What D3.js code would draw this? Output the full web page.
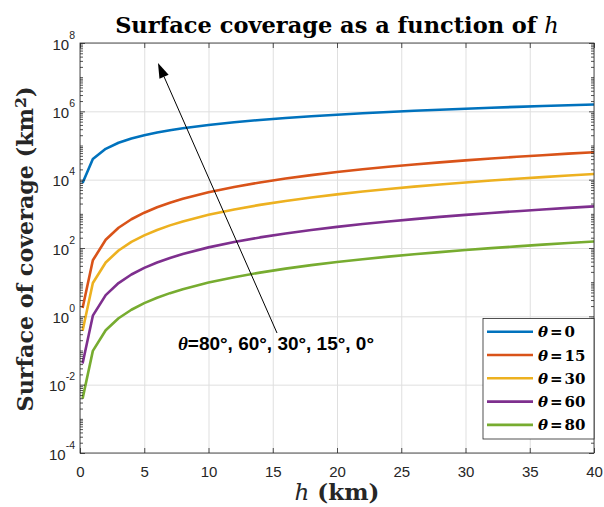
<!DOCTYPE html>
<html>
<head>
<meta charset="utf-8">
<script src="https://cdn.jsdelivr.net/npm/d3@7"></script>
<style>
  body { margin: 0; background: #fff; }
  svg { display: block; }
  .tick text { font-family: "Liberation Sans", Arial, sans-serif; fill: #262626; }
</style>
</head>
<body>
<div id="chart"></div>
<script>
// altitude h (km) where the curves are sampled
const hKm = [0.2, 1, 2, 3, 4, 5, 6, 7, 8, 10, 12, 14, 16, 18, 20, 22, 24, 26, 28, 30, 32, 34, 36, 38, 40];

// surface of coverage (km^2), one array per minimum elevation angle
const cov0 = [8006, 40024, 80035, 120034, 160021, 199994, 239955, 279904, 319840, 399674, 479465, 559194, 638878,
  718513, 798098, 877633, 957119, 1036554, 1115940, 1195277, 1274563, 1353800, 1432988, 1512126, 1591216];
const cov15 = [1.749, 43.65, 174.2, 390.9, 693.2, 1080.4, 1552.1, 2107.3, 2745.6, 4269.3, 6118.4, 8287.5, 10773,
  13570, 16674, 20081, 23787, 27788, 32080, 36657, 41519, 46657, 52071, 57759, 63714];
const cov30 = [0.3769, 9.418, 37.64, 84.62, 150.33, 234.70, 337.70, 459.29, 599.43, 935.12, 1344.5, 1827.2, 2382.8,
  3011.1, 3711.7, 4484.1, 5328.2, 6243.5, 7230.1, 8287.1, 9414.2, 10611, 11879, 13214, 14620];
const cov60 = [0.04188, 1.0468, 4.1857, 9.4145, 16.731, 26.132, 37.616, 51.181, 66.824, 104.34, 150.14, 204.20, 266.52,
  337.07, 415.83, 502.79, 597.93, 701.21, 812.65, 932.21, 1059.9, 1195.6, 1339.5, 1491.3, 1651.2];
const cov80 = [0.003907, 0.09765, 0.3905, 0.8783, 1.5608, 2.4381, 3.5097, 4.7756, 6.2356, 9.7365, 14.012, 19.059, 24.878,
  31.466, 38.822, 46.945, 55.833, 65.485, 75.900, 87.073, 99.008, 111.70, 125.15, 139.35, 154.31];

const thetaLabels = ["0", "15", "30", "60", "80"];
const xTicks = [0, 5, 10, 15, 20, 25, 30, 35, 40];
const yTickExps = [-4, -2, 0, 2, 4, 6, 8];

const allSeries = [cov0, cov15, cov30, cov60, cov80];
const colors = ["#0072BD", "#D95319", "#EDB120", "#7E2F8E", "#77AC30"];

const width = 604, height = 507;
const plot = {left: 80, right: 594, top: 43, bottom: 453};
const axisColor = "#262626";
const serif = '"DejaVu Serif", "Liberation Serif", serif';

const x = d3.scaleLinear().domain([0, 40]).range([plot.left, plot.right]);
const y = d3.scaleLog().domain([1e-4, 1e8]).range([plot.bottom, plot.top]);

const svg = d3.select("#chart")
  .append("svg")
  .attr("width", width)
  .attr("height", height);

// scale a text so it spans the wanted width
function fitWidth(sel, target) {
  const w = sel.node().getComputedTextLength();
  const fs = parseFloat(sel.style("font-size"));
  sel.style("font-size", (fs * target / w) + "px");
}

// grid
svg.append("g")
  .attr("transform", `translate(0,${plot.bottom})`)
  .call(d3.axisBottom(x).tickValues(xTicks).tickSize(-(plot.bottom - plot.top)).tickFormat(""))
  .call(g => g.select(".domain").remove())
  .selectAll("line").attr("stroke", "#dfdfdf");

svg.append("g")
  .attr("transform", `translate(${plot.left},0)`)
  .call(d3.axisLeft(y).tickValues(yTickExps.map(e => Math.pow(10, e))).tickSize(-(plot.right - plot.left)).tickFormat(""))
  .call(g => g.select(".domain").remove())
  .selectAll("line").attr("stroke", "#dfdfdf");

// curves
svg.append("clipPath").attr("id", "clip")
  .append("rect")
  .attr("x", plot.left).attr("y", plot.top)
  .attr("width", plot.right - plot.left).attr("height", plot.bottom - plot.top);

const line = d3.line()
  .x((d, i) => x(hKm[i]))
  .y(d => y(d));

svg.append("g")
  .attr("clip-path", "url(#clip)")
  .selectAll("path")
  .data(allSeries)
  .enter()
  .append("path")
  .attr("d", line)
  .attr("fill", "none")
  .attr("stroke", (d, i) => colors[i])
  .attr("stroke-width", 2.6)
  .attr("stroke-linejoin", "round");

// minor ticks of the log axis
const minorVals = [];
for (let e = -4; e < 8; e++) {
  for (let k = 1; k < 10; k++) {
    if (k === 1 && e % 2 === 0) continue;
    minorVals.push(k * Math.pow(10, e));
  }
}
const majorY = yTickExps.map(e => Math.pow(10, e));

// axes, ticks pointing inside
const xAxis = svg.append("g")
  .attr("transform", `translate(0,${plot.bottom})`)
  .call(d3.axisBottom(x).tickValues(xTicks).tickSizeInner(-5).tickSizeOuter(0).tickPadding(13));
xAxis.attr("font-size", 15);

svg.append("g")
  .attr("transform", `translate(0,${plot.top})`)
  .call(d3.axisTop(x).tickValues(xTicks).tickSizeInner(-5).tickSizeOuter(0).tickFormat(""));

const yAxis = svg.append("g")
  .attr("transform", `translate(${plot.left},0)`)
  .call(d3.axisLeft(y).tickValues(majorY).tickSizeInner(-5).tickSizeOuter(0).tickPadding(5).tickFormat(""));
yAxis.attr("font-size", 15);

svg.append("g")
  .attr("transform", `translate(${plot.left},0)`)
  .call(d3.axisLeft(y).tickValues(minorVals).tickSizeInner(-3).tickSizeOuter(0).tickFormat(""));

svg.append("g")
  .attr("transform", `translate(${plot.right},0)`)
  .call(d3.axisRight(y).tickValues(majorY).tickSizeInner(-5).tickSizeOuter(0).tickFormat(""));

svg.append("g")
  .attr("transform", `translate(${plot.right},0)`)
  .call(d3.axisRight(y).tickValues(minorVals).tickSizeInner(-3).tickSizeOuter(0).tickFormat(""));

svg.selectAll(".domain").remove();
svg.selectAll(".tick line").filter(function() { return this.getAttribute("stroke") !== "#dfdfdf"; })
  .attr("stroke", axisColor).attr("stroke-width", 0.8);

// y tick labels as 10 with exponent
yAxis.selectAll(".tick text")
  .attr("x", -5)
  .attr("dy", null)
  .attr("y", 6)
  .each(function(d) {
    const t = d3.select(this);
    t.text("");
    t.append("tspan").text("10");
    t.append("tspan").attr("dy", -11).attr("font-size", 10.5).text(Math.round(Math.log10(d)));
  });

// box
svg.append("rect")
  .attr("x", plot.left).attr("y", plot.top)
  .attr("width", plot.right - plot.left).attr("height", plot.bottom - plot.top)
  .attr("fill", "none").attr("stroke", axisColor).attr("stroke-width", 0.8);

// title
const title = svg.append("text")
  .attr("x", (plot.left + plot.right) / 2).attr("y", 33)
  .attr("text-anchor", "middle")
  .style("font-family", serif).style("font-size", "21px").style("font-weight", "bold").attr("fill", "#000");
title.append("tspan").text("Surface coverage as a function of ");
title.append("tspan").style("font-style", "italic").style("font-weight", "normal").text("h");
fitWidth(title, 444);

// axis labels
const xLabel = svg.append("text")
  .attr("x", (plot.left + plot.right) / 2).attr("y", 500)
  .attr("text-anchor", "middle")
  .style("font-family", serif).style("font-size", "21px").style("font-weight", "bold").attr("fill", "#262626");
xLabel.append("tspan").style("font-style", "italic").style("font-weight", "normal").text("h");
xLabel.append("tspan").text(" (km)");
fitWidth(xLabel, 85);

const yLabel = svg.append("text")
  .attr("transform", `translate(33,249) rotate(-90)`)
  .attr("text-anchor", "middle")
  .style("font-family", serif).style("font-size", "22px").style("font-weight", "bold").attr("fill", "#262626");
yLabel.append("tspan").text("Surface of coverage (km");
yLabel.append("tspan").attr("dy", "-0.45em").style("font-size", "0.7em").text("2");
yLabel.append("tspan").attr("dy", "0.315em").text(")");
fitWidth(yLabel, 325);

// annotation arrow
const tail = [277, 333], tip = [158, 63];
const dxA = tip[0] - tail[0], dyA = tip[1] - tail[1];
const len = Math.hypot(dxA, dyA);
const ux = dxA / len, uy = dyA / len;
const headLen = 15, headHalf = 5;
const base = [tip[0] - ux * headLen, tip[1] - uy * headLen];
svg.append("line")
  .attr("x1", tail[0]).attr("y1", tail[1])
  .attr("x2", base[0]).attr("y2", base[1])
  .attr("stroke", "#000").attr("stroke-width", 1);
svg.append("polygon")
  .attr("points", [
    tip,
    [base[0] - uy * headHalf, base[1] + ux * headHalf],
    [base[0] + uy * headHalf, base[1] - ux * headHalf]
  ].map(p => p.join(",")).join(" "))
  .attr("fill", "#000");

const note = svg.append("text")
  .attr("x", 178).attr("y", 350)
  .style("font-family", '"Liberation Sans", Arial, sans-serif').style("font-size", "16px").style("font-weight", "bold");
note.append("tspan").style("font-family", '"Liberation Serif", serif').style("font-style", "italic").text("θ");
note.append("tspan").text("=80°, 60°, 30°, 15°, 0°");
fitWidth(note, 196);

// legend
const legend = svg.append("g");
legend.append("rect")
  .attr("x", 483).attr("y", 318.5)
  .attr("width", 111).attr("height", 120.5)
  .attr("fill", "#fff").attr("stroke", axisColor).attr("stroke-width", 0.8);

const rows = legend.selectAll("g.row")
  .data(thetaLabels)
  .enter()
  .append("g")
  .attr("class", "row")
  .attr("transform", (d, i) => `translate(0,${331.7 + i * 23.3})`);

rows.append("line")
  .attr("x1", 487).attr("x2", 533)
  .attr("stroke", (d, i) => colors[i])
  .attr("stroke-width", 2.6);

const rowText = rows.append("text")
  .attr("x", 538).attr("y", 5.5)
  .style("font-family", serif).style("font-size", "15px").style("font-weight", "bold").attr("fill", "#000");
rowText.append("tspan").style("font-style", "italic").text("θ");
rowText.append("tspan").attr("dx", 2).text("=");
rowText.append("tspan").attr("dx", 2).text(d => d);
</script>
</body>
</html>
